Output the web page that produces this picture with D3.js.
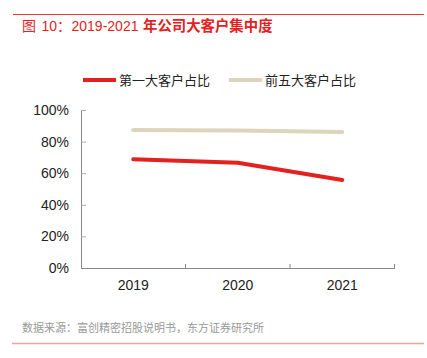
<!DOCTYPE html>
<html><head><meta charset="utf-8">
<script src="https://cdn.jsdelivr.net/npm/d3@7/dist/d3.min.js"></script>
<style>body{margin:0;background:#fff;} svg{display:block;}</style>
</head><body>
<svg id="c" width="427" height="358"></svg>
<script>
const categories = ["2019","2020","2021"];
const seriesNames = ["第一大客户占比","前五大客户占比"];
const top1 = [68.8, 66.6, 55.7];
const top5 = [87.3, 87.0, 86.1];
const yTicks = [0,20,40,60,80,100];
const colors = ["#e3211f","#ddd4bd"];
const font = "'Liberation Sans','Noto Sans CJK SC',sans-serif";
const cjk = "'Noto Sans CJK SC',sans-serif";

const svg = d3.select("#c");
// top rule
svg.append("line").attr("x1",13).attr("x2",424).attr("y1",14.5).attr("y2",14.5).attr("stroke","#e8352e").attr("stroke-width",1);
const titleParts = [
  {t:"图", x:22, f:cjk, w:"normal", s:14},
  {t:"10：", x:41.5, f:font, w:"normal", s:14},
  {t:"2019-2021", x:71.5, f:font, w:"normal", s:14},
  {t:"年公司大客户集中度", x:143, f:cjk, w:"bold", s:14.4}
];
svg.append("g").selectAll("text").data(titleParts).join("text")
  .attr("x",d=>d.x).attr("y",31).attr("fill","#e3211f")
  .attr("font-family",d=>d.f).attr("font-weight",d=>d.w).attr("font-size",d=>d.s).text(d=>d.t);

const x = d3.scaleBand().domain(categories).range([81,394.5]);
const y = d3.scaleLinear().domain([0,100]).range([268,110]);

// legend
const leg = [{n:seriesNames[0],c:colors[0],x:83},{n:seriesNames[1],c:colors[1],x:229}];
leg.forEach(l=>{
  svg.append("line").attr("x1",l.x).attr("x2",l.x+33).attr("y1",80).attr("y2",80).attr("stroke",l.c).attr("stroke-width",4);
  svg.append("text").attr("x",l.x+36).attr("y",85).attr("font-family",cjk).attr("font-size",13).attr("fill","#222").text(l.n);
});

// axes
const yAxis = svg.append("g").attr("transform","translate(81,0)")
  .call(d3.axisLeft(y).tickValues(yTicks).tickFormat(d=>d+"%").tickSizeInner(-5).tickSizeOuter(0).tickPadding(12));
const xAxis = svg.append("g").attr("transform","translate(0,268)")
  .call(d3.axisBottom(x).tickSizeInner(0).tickSizeOuter(0).tickPadding(12));
[yAxis,xAxis].forEach(g=>{
  g.select(".domain").attr("stroke","#888");
  g.selectAll(".tick line").attr("stroke","#aaa");
  g.selectAll("text").attr("font-family",font).attr("font-size",14).attr("fill","#222");
});
// x boundary ticks
const bounds = categories.map(c=>x(c)+x.bandwidth());
svg.append("g").selectAll("line").data(bounds).join("line")
  .attr("x1",d=>d).attr("x2",d=>d).attr("y1",264).attr("y2",268).attr("stroke","#888");

const line = d3.line().x((d,i)=>x(categories[i])+x.bandwidth()/2).y(d=>y(d));
[top5, top1].forEach((s,k)=>{
  svg.append("path").datum(s).attr("d",line).attr("fill","none")
    .attr("stroke",k===0?colors[1]:colors[0]).attr("stroke-width",4).attr("stroke-linecap","round");
});

svg.append("text").attr("x",22).attr("y",332).attr("font-family",cjk).attr("font-size",11).attr("fill","#999").text("数据来源：富创精密招股说明书，东方证券研究所");
svg.append("line").attr("x1",12).attr("x2",424).attr("y1",343.5).attr("y2",343.5).attr("stroke","#f0a29c").attr("stroke-width",1.5);
</script>
</body></html>
